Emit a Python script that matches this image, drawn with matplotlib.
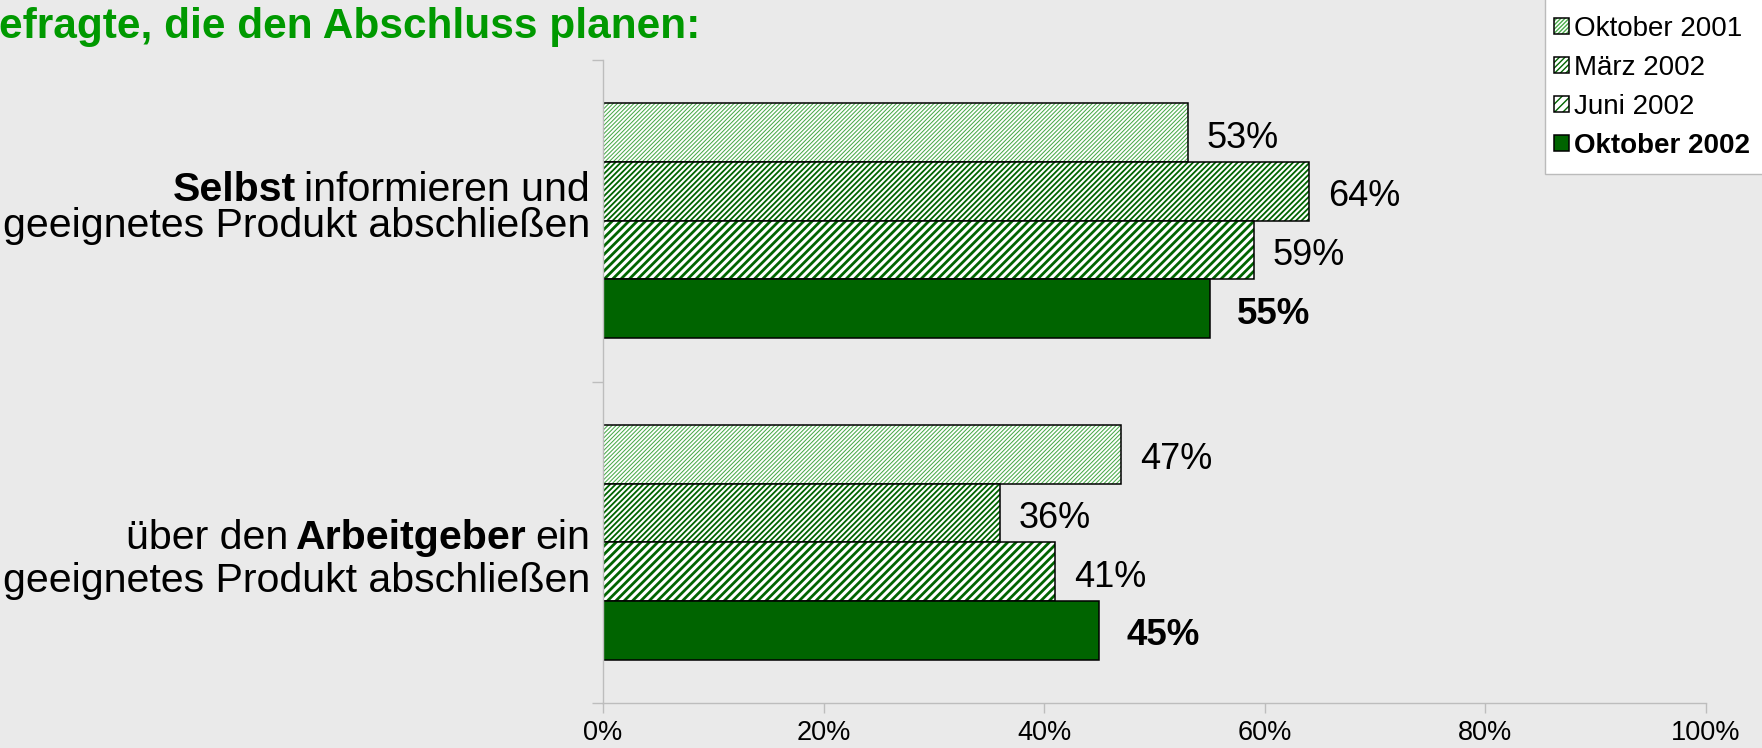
import matplotlib
matplotlib.use("Agg")
import matplotlib.pyplot as plt
from matplotlib.patches import Rectangle
from matplotlib.transforms import IdentityTransform

# ---------------- data ----------------
series_names = ["Oktober 2001", "März 2002", "Juni 2002", "Oktober 2002"]
okt2001 = [53, 47]
maerz2002 = [64, 36]
juni2002 = [59, 41]
okt2002 = [55, 45]
cat_line1 = [[("Selbst", True), ("informieren und", False)],
             [("über den", False), ("Arbeitgeber", True), ("ein", False)]]
cat_line2 = ["geeignetes Produkt abschließen", "geeignetes Produkt abschließen"]
xticks = [0, 20, 40, 60, 80, 100]
xtick_labels = ["0%", "20%", "40%", "60%", "80%", "100%"]
title = "efragte, die den Abschluss planen:"

# ---------------- style ----------------
FONT = "Liberation Sans"
plt.rcParams["font.family"] = [FONT, "DejaVu Sans"]
BG = "#EAEAEA"
GRID = "#BDBDBD"
DARK = "#006400"
W, H = 1762, 748
# baseline offsets (pixels below category centre) of the two label lines
label_offsets = [(-20, 16), (7, 50)]

fig = plt.figure(figsize=(W / 100, H / 100), dpi=100, facecolor=BG)
ax = fig.add_axes([603 / W, 45 / H, 1103 / W, 643 / H])
ax.set_facecolor(BG)
ax.set_xlim(0, 100)
ax.set_ylim(1.5, -0.5)

h = 0.1824
styles = [
    dict(hatch="/" * 8, hc="#4AAA4A", hlw=0.75, face="white"),
    dict(hatch="/" * 6, hc=DARK, hlw=1.3, face="white"),
    dict(hatch="/" * 4, hc=DARK, hlw=2.0, face="white"),
    dict(hatch=None, hc=DARK, hlw=1.0, face=DARK),
]
all_vals = [okt2001, maerz2002, juni2002, okt2002]
handles = []
for j, (vals, st) in enumerate(zip(all_vals, styles)):
    ys = [i + (j - 1.5) * h for i in range(len(vals))]
    with plt.rc_context({"hatch.linewidth": st["hlw"], "hatch.color": st["hc"]}):
        b1 = ax.barh(ys, vals, height=h, color=st["face"], edgecolor=st["hc"],
                     hatch=st["hatch"], linewidth=0)
        for p in b1:
            if hasattr(p, "set_hatch_linewidth"):
                p.set_hatch_linewidth(st["hlw"])
    b2 = ax.barh(ys, vals, height=h, fill=False, edgecolor="black", linewidth=1.1)
    handles.append((b1[0], b2[0]))
    bold = (j == 3)
    for y, v in zip(ys, vals):
        ax.annotate(f"{v}%", xy=(v, y), xytext=(19.4 if bold else 13.5, -10.8),
                    textcoords="offset points", ha="left", va="baseline",
                    fontsize=26.5 if bold else 26,
                    fontweight="bold" if bold else "normal", color="black")

# axes styling
for s in ["top", "right"]:
    ax.spines[s].set_visible(False)
for s in ["left", "bottom"]:
    ax.spines[s].set_color(GRID)
    ax.spines[s].set_linewidth(1.0)
ax.set_xticks(xticks)
ax.set_xticklabels(xtick_labels)
ax.set_yticks([-0.5, 0.5, 1.5])
ax.set_yticklabels([])
ax.tick_params(axis="x", direction="out", length=7.2, width=1.0, color=GRID,
               labelsize=19.5, pad=5, labelcolor="black")
ax.tick_params(axis="y", direction="out", length=7.9, width=1.0, color=GRID)

# category labels (mixed bold)
fig.canvas.draw()
renderer = fig.canvas.get_renderer()
fs = 29.6
space = 0.2 * fs * 100 / 72
right_px = 590
for i in range(2):
    yc = ax.transData.transform((0, i))[1]
    base1 = yc - label_offsets[i][0]
    base2 = yc - label_offsets[i][1]
    x = right_px
    for txt, bold in reversed(cat_line1[i]):
        t = fig.text(x, base1, txt, transform=IdentityTransform(), ha="right",
                     va="baseline", fontsize=fs, fontweight="bold" if bold else "normal")
        wdt = t.get_window_extent(renderer).width
        x -= wdt + space
    fig.text(right_px, base2, cat_line2[i], transform=IdentityTransform(), ha="right",
             va="baseline", fontsize=fs)

# title
fig.text(-1, H - 38, title, transform=IdentityTransform(), ha="left", va="baseline",
         fontsize=30.5, fontweight="bold", color="#009900")

# legend box
fig.patches.append(Rectangle((1545 / W, 1 - 174 / H), 240 / W, 200 / H,
                             transform=fig.transFigure, facecolor="white",
                             edgecolor="#BBBBBB", linewidth=1.0, zorder=0))
leg = fig.legend(handles, series_names, loc="upper left",
                 bbox_to_anchor=(1554 / W, 1 - 16 / H), frameon=False,
                 fontsize=20, handlelength=0.525, handleheight=0.525,
                 handletextpad=0.2, labelspacing=0.467, borderpad=0.0,
                 borderaxespad=0.0)
for t in leg.get_texts():
    if t.get_text() == "Oktober 2002":
        t.set_fontweight("bold")

fig.savefig("out.png", dpi=100, facecolor=BG)
